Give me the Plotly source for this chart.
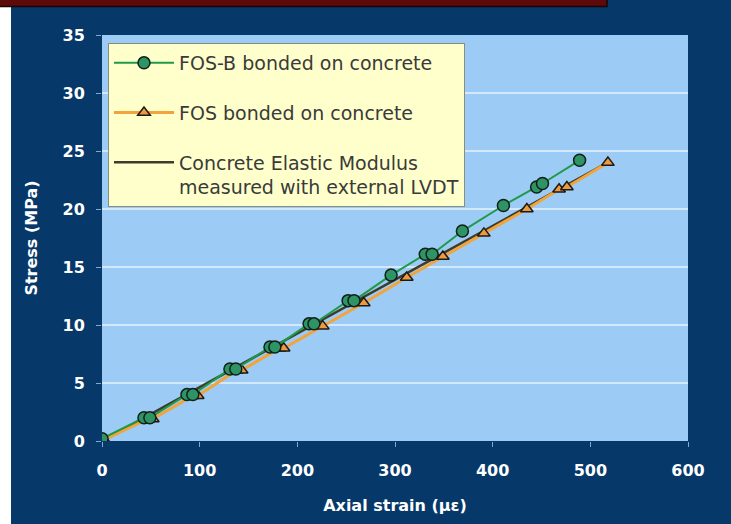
import plotly.graph_objects as go

# ---- data ----
fosb_strain = [0, 43, 49, 87, 93, 131, 137, 172, 177, 212, 217, 252, 258, 296, 331, 338, 369, 411, 445, 451, 489]
fosb_stress = [0.2, 2.0, 2.0, 4.0, 4.0, 6.2, 6.2, 8.1, 8.1, 10.1, 10.1, 12.1, 12.1, 14.3, 16.1, 16.1, 18.1, 20.3, 21.9, 22.2, 24.2]

fos_strain = [2, 47, 52, 93, 98, 138, 143, 182, 186, 226, 268, 312, 349, 391, 435, 468, 476, 518]
fos_stress = [0.1, 1.9, 1.9, 3.9, 3.9, 6.1, 6.1, 8.0, 8.0, 9.9, 11.9, 14.1, 15.9, 17.9, 20.0, 21.7, 21.9, 24.0]

lvdt_strain = [0, 520]
lvdt_stress = [0, 24.1]

x_ticks = [0, 100, 200, 300, 400, 500, 600]
y_ticks = [0, 5, 10, 15, 20, 25, 30, 35]

NAVY = "#06386A"
FONT = "DejaVu Sans"

fig = go.Figure()

fig.add_trace(go.Scatter(
    x=lvdt_strain, y=lvdt_stress, mode="lines",
    name="Concrete Elastic Modulus<br>measured with external LVDT",
    line=dict(color="#3E3A2C", width=2.5),
    legendrank=3, legendgroup="c",
))
fig.add_trace(go.Scatter(
    x=fos_strain, y=fos_stress, mode="lines+markers",
    name="FOS bonded on concrete",
    line=dict(color="#F2A43A", width=3),
    marker=dict(symbol="triangle-up", size=11, color="#EE9A3C",
                line=dict(color="#1A1A1A", width=1.5)),
    legendrank=2, legendgroup="b",
))
fig.add_trace(go.Scatter(
    x=fosb_strain, y=fosb_stress, mode="lines+markers",
    name="FOS-B bonded on concrete",
    line=dict(color="#1F9A48", width=2),
    marker=dict(symbol="circle", size=12, color="#2E9466",
                line=dict(color="#102018", width=1.5)),
    legendrank=1, legendgroup="a",
))

# pixel geometry helpers for decoration shapes (plot area 102..688 x 35..441)
def px_x(p):
    return (p - 102) / 586.0

def px_y(p):
    return (441 - p) / 406.0

shapes = [
    dict(type="rect", xref="paper", yref="paper", layer="above",
         x0=px_x(-2), x1=px_x(11), y0=px_y(530), y1=px_y(-2),
         fillcolor="white", line=dict(width=0)),
    dict(type="rect", xref="paper", yref="paper", layer="above",
         x0=px_x(-2), x1=px_x(607), y0=px_y(6.5), y1=px_y(-4),
         fillcolor="#5E0A0A", line=dict(color="#1A0505", width=1.5)),
]

fig.update_layout(
    width=731, height=524,
    margin=dict(l=102, r=43, t=35, b=83, pad=0),
    paper_bgcolor=NAVY,
    plot_bgcolor="#9CCBF6",
    showlegend=True,
    shapes=shapes,
    legend=dict(
        x=px_x(108), y=px_y(43), xanchor="left", yanchor="top",
        bgcolor="#FFFFCC", bordercolor="#8C8C7A", borderwidth=1,
        font=dict(family=FONT, size=19, color="#3A3A3A"),
        traceorder="grouped", tracegroupgap=22, valign="top",
        itemwidth=60,
    ),
    xaxis=dict(
        range=[0, 600], tickvals=x_ticks, showgrid=False, zeroline=False,
        ticks="outside", ticklen=5, tickcolor="#7FA9D6", tickwidth=1,
        tickfont=dict(family=FONT, size=16, color="white", weight="bold"),
        ticklabelstandoff=10,
        title=dict(text="Axial strain (με)", standoff=20,
                   font=dict(family=FONT, size=16, color="white", weight="bold")),
        showline=False, fixedrange=True,
    ),
    yaxis=dict(
        range=[0, 35], tickvals=y_ticks, showgrid=True,
        gridcolor="#D3E8FB", gridwidth=1.5, zeroline=False,
        ticks="outside", ticklen=5, tickcolor="#7FA9D6", tickwidth=1,
        tickfont=dict(family=FONT, size=16, color="white", weight="bold"),
        ticklabelstandoff=8,
        title=dict(text="Stress (MPa)", standoff=20,
                   font=dict(family=FONT, size=16, color="white", weight="bold")),
        showline=False, fixedrange=True,
    ),
)

fig.write_html("out.html", config={"displayModeBar": False},
               post_script="document.body.style.margin='0px';")
